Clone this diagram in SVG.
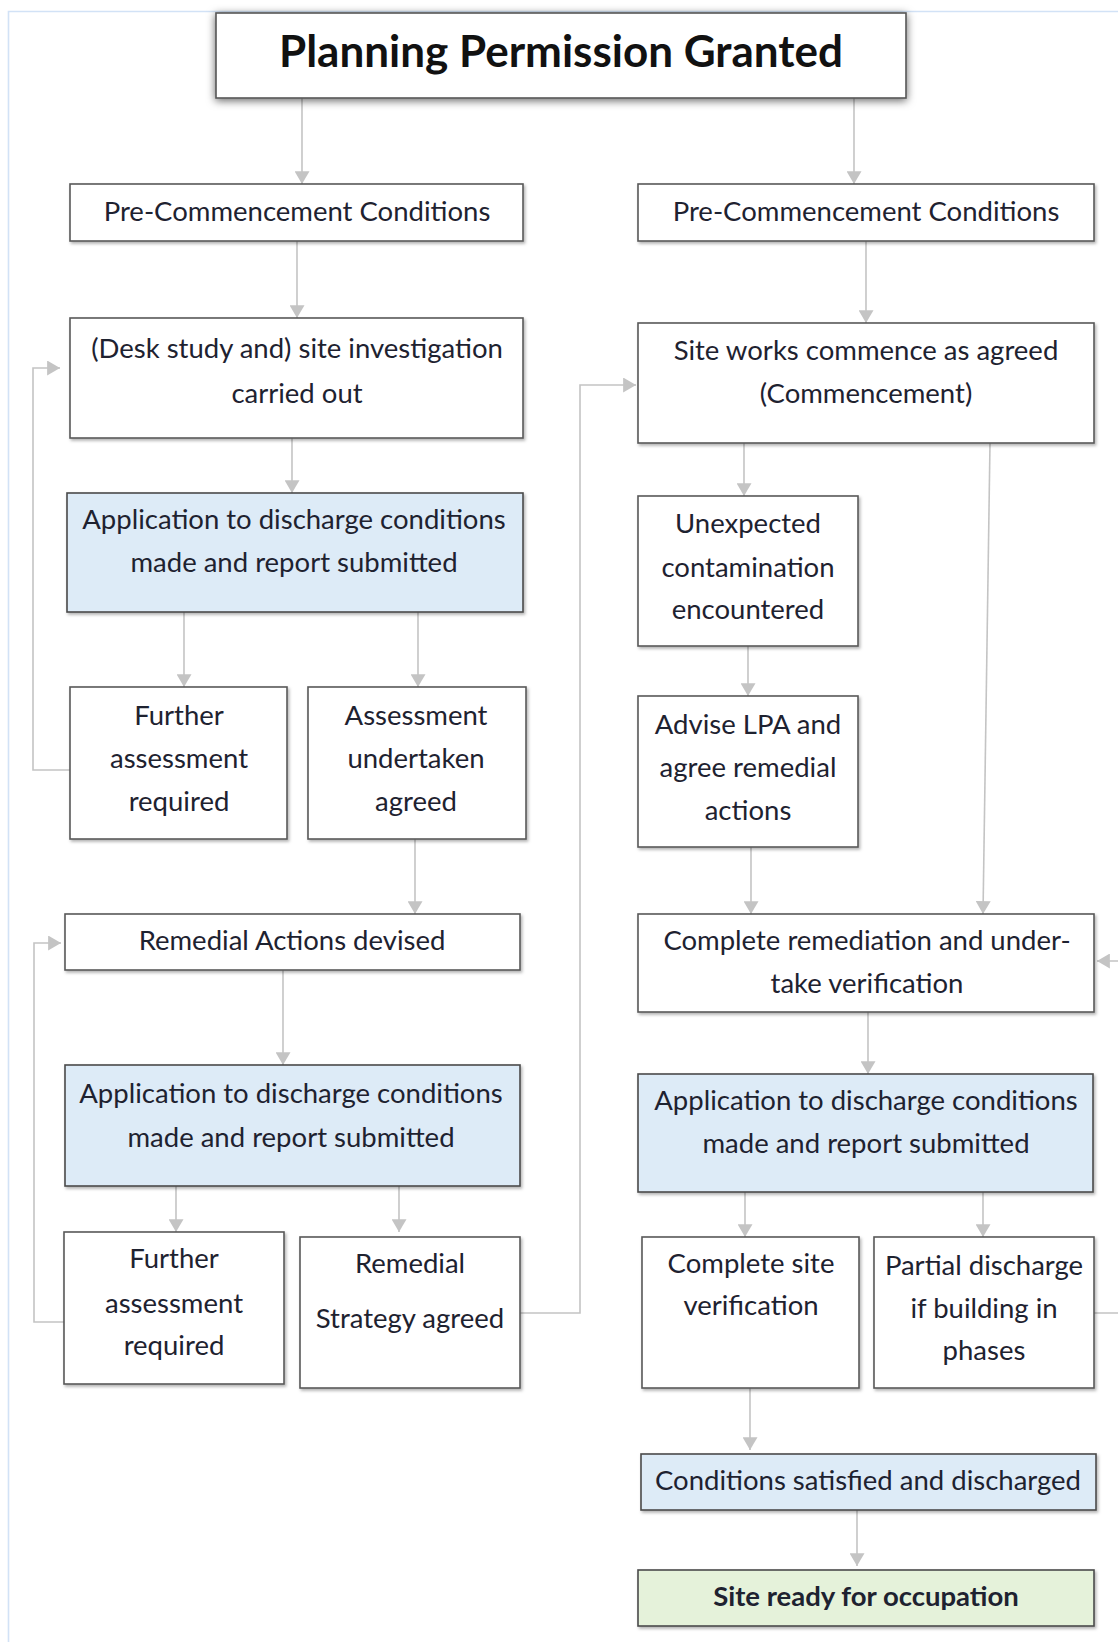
<svg xmlns="http://www.w3.org/2000/svg" width="1118" height="1642" viewBox="0 0 1118 1642">
<style>
.box{fill:#ffffff;stroke:#595959;stroke-width:1.6}
.blue{fill:#DDEBF7;stroke:#4a4a4a;stroke-width:1.6}
.green{fill:#E5F2DA;stroke:#4a4a4a;stroke-width:1.6}
.t{font-family:Lato,"Open Sans","Liberation Sans",sans-serif;font-size:27.5px;fill:#1E2230;text-anchor:middle}
.b{font-weight:bold}
.title{font-family:Lato,"Open Sans","Liberation Sans",sans-serif;font-size:44px;font-weight:bold;fill:#111;text-anchor:middle}
.c{fill:none;stroke:#C4C4C4;stroke-width:1.6}
.a{marker-end:url(#arr)}
</style>
<defs>
<marker id="arr" viewBox="0 0 12 14" refX="12" refY="7" markerWidth="13" markerHeight="15" markerUnits="userSpaceOnUse" orient="auto">
<path d="M0,0 L12,7 L0,14 z" fill="#C4C4C4"/>
</marker>
<filter id="sh" x="-5%" y="-10%" width="115%" height="130%">
<feDropShadow dx="1.5" dy="2" stdDeviation="1.5" flood-color="#000" flood-opacity="0.3"/>
</filter>
<filter id="shT" x="-5%" y="-20%" width="110%" height="150%">
<feDropShadow dx="0" dy="2" stdDeviation="4" flood-color="#000" flood-opacity="0.6"/>
</filter>
</defs>
<rect width="1118" height="1642" fill="#ffffff"/>
<path d="M8.5,1642 V11.5 H1118" fill="none" stroke="#D2E2F6" stroke-width="1.6"/>

<g id="connectors">
<path class="c a" d="M302,98 V184"/>
<path class="c a" d="M854,98 V184"/>
<path class="c a" d="M297,241 V318"/>
<path class="c a" d="M866,241 V323"/>
<path class="c a" d="M292,438 V493"/>
<path class="c a" d="M184,612 V687"/>
<path class="c a" d="M418,612 V687"/>
<path class="c a" d="M70,770 H33 V368 H60"/>
<path class="c a" d="M415,839 V914"/>
<path class="c a" d="M283,970 V1065"/>
<path class="c a" d="M176,1186 V1232"/>
<path class="c a" d="M399,1186 V1232"/>
<path class="c a" d="M64,1322 H34 V943 H61"/>
<path class="c a" d="M520,1313 H580 V385 H636"/>
<path class="c a" d="M744,443 V496"/>
<path class="c a" d="M748,646 V696"/>
<path class="c a" d="M751,847 V914"/>
<path class="c a" d="M990,443 L983,914"/>
<path class="c a" d="M868,1012 V1074"/>
<path class="c a" d="M745,1192 V1237"/>
<path class="c a" d="M983,1192 V1237"/>
<path class="c a" d="M1094,1313 H1130 V961 H1097"/>
<path class="c a" d="M750,1388 V1450"/>
<path class="c a" d="M857,1510 V1566"/>
</g>

<g id="n_title">
<rect x="216" y="13" width="690" height="85" class="box" style="stroke:#555" filter="url(#shT)"/>
<text class="title" x="561" y="67">Planning Permission Granted</text>
</g>
<g id="n_precomm_left">
<rect x="70" y="184" width="453" height="57" class="box" filter="url(#sh)"/>
<text class="t" x="297" y="221">Pre-Commencement Conditions</text>
</g>
<g id="n_precomm_right">
<rect x="638" y="184" width="456" height="57" class="box" filter="url(#sh)"/>
<text class="t" x="866" y="221">Pre-Commencement Conditions</text>
</g>
<g id="n_desk">
<rect x="70" y="318" width="453" height="120" class="box" filter="url(#sh)"/>
<text class="t" x="297" y="358">(Desk study and) site investigation</text>
<text class="t" x="297" y="403">carried out</text>
</g>
<g id="n_siteworks">
<rect x="638" y="323" width="456" height="120" class="box" filter="url(#sh)"/>
<text class="t" x="866" y="360">Site works commence as agreed</text>
<text class="t" x="866" y="403">(Commencement)</text>
</g>
<g id="n_app1">
<rect x="67" y="493" width="456" height="119" class="blue" filter="url(#sh)"/>
<text class="t" x="294" y="529">Application to discharge conditions</text>
<text class="t" x="294" y="572">made and report submitted</text>
</g>
<g id="n_further1">
<rect x="70" y="687" width="217" height="152" class="box" filter="url(#sh)"/>
<text class="t" x="179" y="725">Further</text>
<text class="t" x="179" y="768">assessment</text>
<text class="t" x="179" y="811">required</text>
</g>
<g id="n_assess">
<rect x="308" y="687" width="218" height="152" class="box" filter="url(#sh)"/>
<text class="t" x="416" y="725">Assessment</text>
<text class="t" x="416" y="768">undertaken</text>
<text class="t" x="416" y="811">agreed</text>
</g>
<g id="n_remedial">
<rect x="65" y="914" width="455" height="56" class="box" filter="url(#sh)"/>
<text class="t" x="292" y="950">Remedial Actions devised</text>
</g>
<g id="n_app2">
<rect x="65" y="1065" width="455" height="121" class="blue" filter="url(#sh)"/>
<text class="t" x="291" y="1103">Application to discharge conditions</text>
<text class="t" x="291" y="1147">made and report submitted</text>
</g>
<g id="n_further2">
<rect x="64" y="1232" width="220" height="152" class="box" filter="url(#sh)"/>
<text class="t" x="174" y="1268">Further</text>
<text class="t" x="174" y="1313">assessment</text>
<text class="t" x="174" y="1355">required</text>
</g>
<g id="n_strategy">
<rect x="300" y="1237" width="220" height="151" class="box" filter="url(#sh)"/>
<text class="t" x="410" y="1273">Remedial</text>
<text class="t" x="410" y="1328">Strategy agreed</text>
</g>
<g id="n_unexpected">
<rect x="638" y="496" width="220" height="150" class="box" filter="url(#sh)"/>
<text class="t" x="748" y="533">Unexpected</text>
<text class="t" x="748" y="577">contamination</text>
<text class="t" x="748" y="619">encountered</text>
</g>
<g id="n_advise">
<rect x="638" y="696" width="220" height="151" class="box" filter="url(#sh)"/>
<text class="t" x="748" y="734">Advise LPA and</text>
<text class="t" x="748" y="777">agree remedial</text>
<text class="t" x="748" y="820">actions</text>
</g>
<g id="n_complete_rem">
<rect x="638" y="914" width="456" height="98" class="box" filter="url(#sh)"/>
<text class="t" x="867" y="950">Complete remediation and under-</text>
<text class="t" x="867" y="993">take verification</text>
</g>
<g id="n_app3">
<rect x="638" y="1074" width="455" height="118" class="blue" filter="url(#sh)"/>
<text class="t" x="866" y="1110">Application to discharge conditions</text>
<text class="t" x="866" y="1153">made and report submitted</text>
</g>
<g id="n_csv">
<rect x="642" y="1237" width="217" height="151" class="box" filter="url(#sh)"/>
<text class="t" x="751" y="1273">Complete site</text>
<text class="t" x="751" y="1315">verification</text>
</g>
<g id="n_partial">
<rect x="874" y="1237" width="220" height="151" class="box" filter="url(#sh)"/>
<text class="t" x="984" y="1275">Partial discharge</text>
<text class="t" x="984" y="1318">if building in</text>
<text class="t" x="984" y="1360">phases</text>
</g>
<g id="n_conditions">
<rect x="641" y="1454" width="455" height="56" class="blue" filter="url(#sh)"/>
<text class="t" x="868" y="1490">Conditions satisfied and discharged</text>
</g>
<g id="n_ready">
<rect x="638" y="1570" width="456" height="56" class="green" filter="url(#sh)"/>
<text class="t b" x="866" y="1606">Site ready for occupation</text>
</g>
</svg>
